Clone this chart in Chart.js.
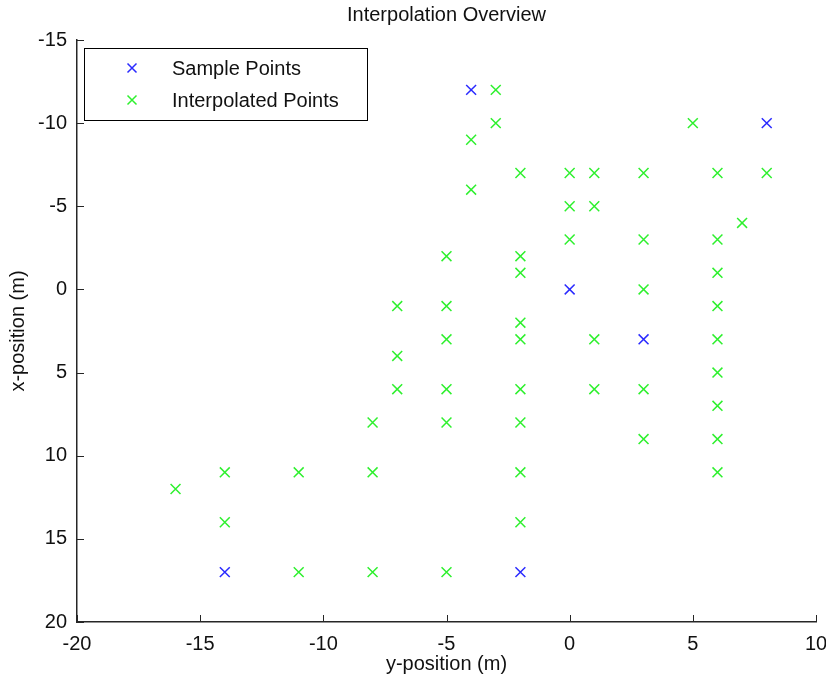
<!DOCTYPE html>
<html>
<head>
<meta charset="utf-8">
<script src="https://cdn.jsdelivr.net/npm/chart.js@4.4.1/dist/chart.umd.min.js"></script>
<style>
  html, body { margin: 0; padding: 0; background: #fff; }
  #wrap { width: 826px; height: 684px; position: relative; }
</style>
</head>
<body>
<div id="wrap"><canvas id="chart"></canvas></div>
<script>
// horizontal axis = y-position, vertical axis = x-position (reversed)
const sampleH = [-4, 8, 0, 3, -14, -2];
const sampleV = [-12, -10, 0, 3, 17, 17];

const interpH = [
  -3, -3, -4, -4, 5, 8, -2, 0, 1, 3, 6, 0, 1, 7, 0, 3, 6,
  -5, -2, -2, 6, 3, -7, -5, 6, -2, -5, -2, 1, 6, -7, 6,
  -7, -5, -2, 1, 3, 6, -8, -5, -2, 3, 6,
  -14, -11, -8, -2, 6, -16, -14, -2, -11, -8, -5
];
const interpV = [
  -12, -10, -9, -6, -10, -7, -7, -7, -7, -7, -7, -5, -5, -4, -3, -3, -3,
  -2, -2, -1, -1, 0, 1, 1, 1, 2, 3, 3, 3, 3, 4, 5,
  6, 6, 6, 6, 6, 7, 8, 8, 8, 9, 9,
  11, 11, 11, 11, 11, 12, 14, 14, 17, 17, 17
];

const xTicks = [-20, -15, -10, -5, 0, 5, 10];
const yTicks = [-15, -10, -5, 0, 5, 10, 15, 20];

const FONT = "'Liberation Sans', Arial, sans-serif";
const AXIS = "#262626";

function toPoints(hs, vs) {
  return hs.map((h, i) => ({ x: h, y: vs[i] }));
}

const decorPlugin = {
  id: "decor",
  afterDraw(chart) {
    const { ctx, chartArea: a, scales } = chart;
    ctx.save();
    ctx.strokeStyle = AXIS;
    ctx.lineWidth = 1;
    ctx.beginPath();
    // inward tick marks
    xTicks.forEach((t) => {
      const px = Math.round(scales.x.getPixelForValue(t)) + 0.5;
      ctx.moveTo(px, a.bottom);
      ctx.lineTo(px, a.bottom - 7);
    });
    yTicks.forEach((t) => {
      const py = Math.round(scales.y.getPixelForValue(t)) + 0.5;
      ctx.moveTo(a.left, py);
      ctx.lineTo(a.left + 7, py);
    });
    ctx.stroke();

    ctx.fillStyle = "#111";
    ctx.font = "20px " + FONT;
    ctx.textAlign = "center";
    ctx.textBaseline = "middle";
    ctx.fillText("Interpolation Overview", (a.left + a.right) / 2, 15);
    ctx.fillText("y-position (m)", (a.left + a.right) / 2, 664);
    ctx.save();
    ctx.translate(18, (a.top + a.bottom) / 2);
    ctx.rotate(-Math.PI / 2);
    ctx.fillText("x-position (m)", 0, 0);
    ctx.restore();

    // legend box inside the axes
    const bx = 84.5, by = 48.5, bw = 283, bh = 72;
    ctx.fillStyle = "#fff";
    ctx.fillRect(bx, by, bw, bh);
    ctx.strokeStyle = "#000";
    ctx.strokeRect(bx, by, bw, bh);
    chart.data.datasets.forEach((ds, i) => {
      const cy = 68 + i * 32;
      const cx = 132;
      const r = 4.5;
      ctx.strokeStyle = ds.borderColor;
      ctx.lineWidth = ds.borderWidth;
      ctx.beginPath();
      ctx.moveTo(cx - r, cy - r);
      ctx.lineTo(cx + r, cy + r);
      ctx.moveTo(cx + r, cy - r);
      ctx.lineTo(cx - r, cy + r);
      ctx.stroke();
      ctx.fillStyle = "#111";
      ctx.textAlign = "left";
      ctx.fillText(ds.label, 172, cy + 1);
    });
    ctx.restore();
  }
};

new Chart(document.getElementById("chart"), {
  type: "scatter",
  data: {
    datasets: [
      {
        label: "Sample Points",
        data: toPoints(sampleH, sampleV),
        pointStyle: "crossRot",
        pointRadius: 7,
        pointHoverRadius: 7,
        borderColor: "#2a2aff",
        backgroundColor: "#2a2aff",
        borderWidth: 1.5
      },
      {
        label: "Interpolated Points",
        data: toPoints(interpH, interpV),
        pointStyle: "crossRot",
        pointRadius: 7,
        pointHoverRadius: 7,
        borderColor: "#2ef02e",
        backgroundColor: "#2ef02e",
        borderWidth: 1.5
      }
    ]
  },
  options: {
    responsive: true,
    maintainAspectRatio: false,
    animation: false,
    layout: { padding: { top: 40, right: 10, left: 0, bottom: 0 } },
    plugins: {
      legend: { display: false },
      tooltip: { enabled: false }
    },
    scales: {
      x: {
        type: "linear",
        min: -20,
        max: 10,
        afterBuildTicks: (s) => { s.ticks = xTicks.map((v) => ({ value: v })); },
        afterFit: (s) => { s.height = 62; s.paddingLeft = 0; s.paddingRight = 0; },
        grid: { display: false, drawTicks: false },
        border: { display: true, color: AXIS, width: 1.5 },
        ticks: {
          padding: 10,
          color: "#111",
          maxRotation: 0,
          font: { family: FONT, size: 20 }
        }
      },
      y: {
        type: "linear",
        reverse: true,
        min: -15,
        max: 20,
        afterBuildTicks: (s) => { s.ticks = yTicks.map((v) => ({ value: v })); },
        afterFit: (s) => { s.width = 77; s.paddingTop = 0; s.paddingBottom = 0; },
        grid: { display: false, drawTicks: false },
        border: { display: true, color: AXIS, width: 1.5 },
        ticks: {
          padding: 10,
          color: "#111",
          font: { family: FONT, size: 20 }
        }
      }
    }
  },
  plugins: [decorPlugin]
});
</script>
</body>
</html>
